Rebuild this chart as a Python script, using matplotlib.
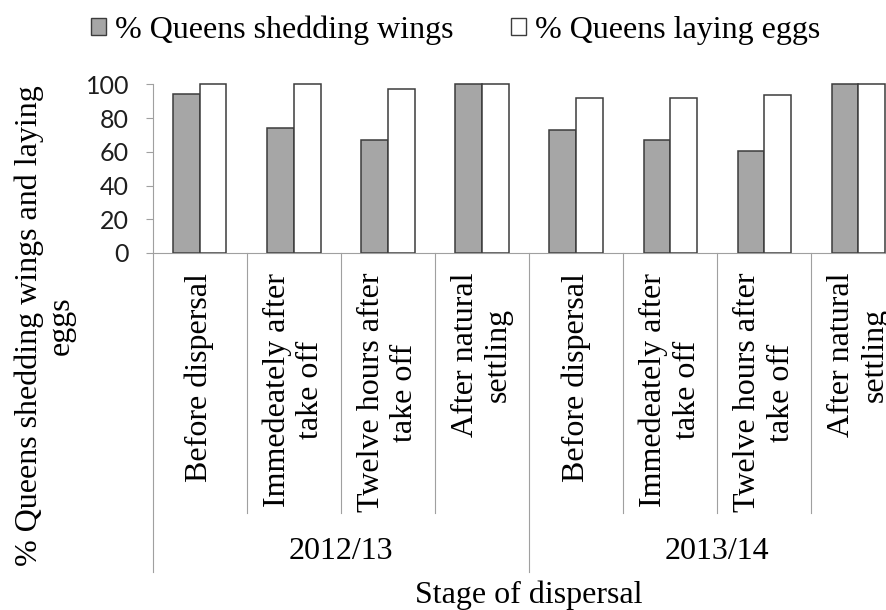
import matplotlib
matplotlib.use("Agg")
import matplotlib.pyplot as plt
from matplotlib.patches import Patch

# data
seasons = ["2012/13", "2013/14"]
stages = ["Before dispersal", "Immedeately after\ntake off",
          "Twelve hours after\ntake off", "After natural\nsettling"]
shedding_wings = [94, 74, 67, 100, 72.7, 66.7, 60.6, 100]
laying_eggs = [100, 100, 97, 100, 91.7, 91.7, 93.9, 100]
yticks = [0, 20, 40, 60, 80, 100]

serif = "Liberation Serif"
W, H = 887, 610
fig = plt.figure(figsize=(W / 100, H / 100), dpi=100)

# plot area in pixels (runs past the right edge, as in the source image)
x0, x1, y0, y1 = 152.7, 905.5, 253.0, 84.3
ax = fig.add_axes([x0 / W, 1 - y0 / H, (x1 - x0) / W, (y0 - y1) / H])

n = len(shedding_wings)
pos = [i + 0.5 for i in range(n)]
bw = 0.284
ax.bar([p - bw / 2 for p in pos], shedding_wings, bw, color="#a6a6a6",
       edgecolor="#3c3c3c", linewidth=1.1, clip_on=False)
ax.bar([p + bw / 2 for p in pos], laying_eggs, bw, color="white",
       edgecolor="#3c3c3c", linewidth=1.1, clip_on=False)

ax.set_xlim(0, n)
ax.set_ylim(0, 100)
ax.set_yticks(yticks)
ax.set_xticks([])
for lab in ax.get_yticklabels():
    lab.set_fontfamily("Lato")
ax.tick_params(axis="y", labelsize=18, length=5, width=0.8, color="#a0a0a0",
               pad=12, labelcolor="#1e1e1e")
for s in ["top", "right"]:
    ax.spines[s].set_visible(False)
for s in ["left", "bottom"]:
    ax.spines[s].set_color("#a0a0a0")
    ax.spines[s].set_linewidth(0.8)


def ay(px):
    # pixel row -> axes fraction
    return (y0 - px) / (y0 - y1)


tr = ax.get_xaxis_transform()
# multi-level category separators
for i in range(n + 1):
    bottom = 571.7 if i % 4 == 0 else 513.0
    ax.plot([i, i], [0, ay(bottom)], transform=tr, color="#a0a0a0",
            lw=0.8, clip_on=False)

for i, p in enumerate(pos):
    ax.text(p, ay(273), stages[i % 4], transform=tr, rotation=90,
            ha="center", va="top", multialignment="center",
            fontsize=23, family=serif, linespacing=1.2)

for g, season in enumerate(seasons):
    ax.text(g * 4 + 2, ay(551.7), season, transform=tr, ha="center",
            va="center", fontsize=23, family=serif)

fig.text((x0 + x1) / 2 / W, 1 - 595 / H, "Stage of dispersal", ha="center",
         va="center", fontsize=23, family=serif)
fig.text(45 / W, 1 - 326 / H, "% Queens shedding wings and laying\neggs",
         rotation=90, ha="center", va="center", multialignment="center",
         fontsize=23, family=serif, linespacing=1.1)

handles = [Patch(facecolor="#a6a6a6", edgecolor="#3c3c3c", lw=1),
           Patch(facecolor="white", edgecolor="#3c3c3c", lw=1)]
fig.legend(handles, ["% Queens shedding wings", "% Queens laying eggs"],
           loc="center", bbox_to_anchor=(456 / W, 1 - 30 / H), ncol=2,
           frameon=False, prop={"family": serif, "size": 23},
           handlelength=0.47, handleheight=0.47, handletextpad=0.28,
           columnspacing=1.8, borderpad=0, borderaxespad=0)

fig.savefig("out.png", dpi=100)
